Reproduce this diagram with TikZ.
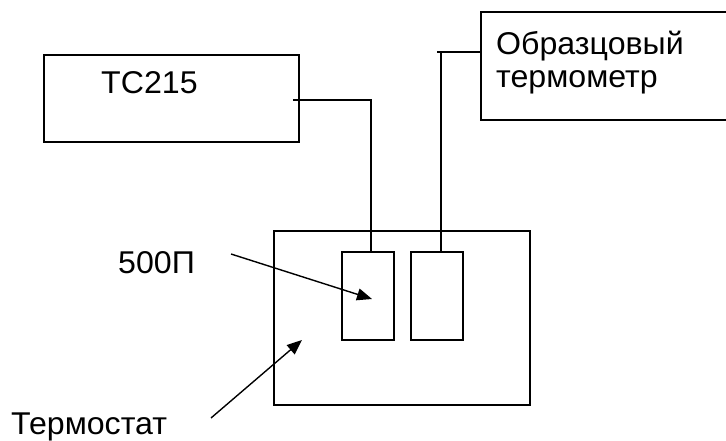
\documentclass[tikz,border=0pt]{standalone}
\usepackage{fontspec}
\setmainfont{Liberation Sans}[FakeStretch=1.02]
\usetikzlibrary{arrows.meta}
\begin{document}
\begin{tikzpicture}[x=1pt,y=-1pt,
  box/.style={draw,line width=1.4pt,rectangle,inner sep=0pt},
  wire/.style={line width=1.4pt},
  pointer/.style={line width=1.4pt,-{Triangle[length=15pt,width=12pt]}},
  lbl/.style={anchor=base west,inner sep=0pt,font=\fontsize{31.5}{34}\selectfont}]
\useasboundingbox (0,0) rectangle (726,441);
\begin{scope}
\clip (0,0) rectangle (726,441);
% boxes
\node[box,minimum width=255pt,minimum height=87pt] (tc) at (171.5,98.5) {};
\node[box,minimum width=262pt,minimum height=108pt] (obr) at (612,66) {};
\node[box,minimum width=256pt,minimum height=174pt] (thermo) at (402,318) {};
\node[box,minimum width=52pt,minimum height=88pt] (p1) at (368,296) {};
\node[box,minimum width=52pt,minimum height=88pt] (p2) at (437,296) {};
% labels
\node[lbl] (tctext) at (101,94) {TC215};
\node[lbl] (obrtext1) at (496,55) {Образцовый};
\node[lbl] (obrtext2) at (496,88) {термометр};
\node[lbl] (ptext) at (118,273) {500П};
\node[lbl] (ttext) at (11,434) {Термостат};
% wires
\coordinate (w1a) at (293,100);
\coordinate (w1b) at (371,100);
\draw[wire] (w1a) -- (w1b) -- (w1b |- p1.north);
\coordinate (w2a) at (437,52);
\coordinate (w2b) at (441,52);
\draw[wire] (w2a) -- (w2a -| obr.west);
\draw[wire] (w2b) -- (w2b |- p2.north);
% pointers
\coordinate (a1s) at (231,254);
\coordinate (a1e) at (372,299);
\draw[pointer] (a1s) -- (a1e);
\coordinate (a2s) at (211,418);
\coordinate (a2e) at (302,340);
\draw[pointer] (a2s) -- (a2e);
\end{scope}
\end{tikzpicture}
\end{document}
